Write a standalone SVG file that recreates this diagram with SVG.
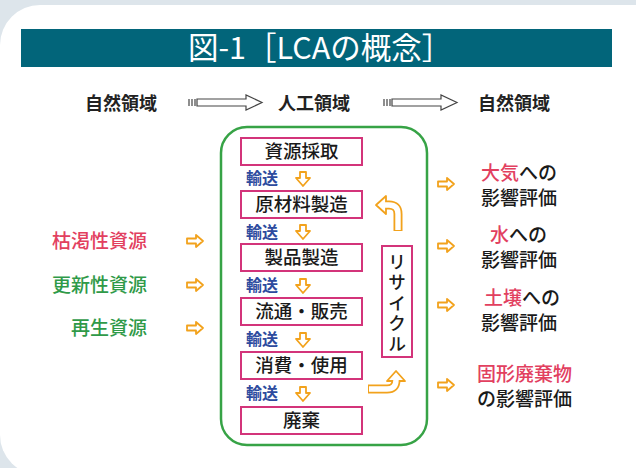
<svg xmlns="http://www.w3.org/2000/svg" width="636" height="468" viewBox="0 0 636 468">
<defs>
<style>
text{font-family:"Noto Sans CJK JP","Noto Sans",sans-serif;}
.hd{font-size:18px;font-weight:700;fill:#222;}
.bx{fill:#fff;stroke:#d3347a;stroke-width:2;}
.bt{font-size:18.5px;font-weight:500;fill:#1a1a1a;text-anchor:middle;}
.tr{font-size:16px;font-weight:700;fill:#2d4b9e;}
.lb{font-size:19px;font-weight:500;fill:#1a1a1a;}
.red{fill:#e2405f;}
.grn{fill:#2f9a48;}
.oa{fill:#fff;stroke:#f2a21c;stroke-width:1.8;stroke-linejoin:round;}
.ha{fill:#fff;stroke:#444;stroke-width:1.2;}
</style>
<path id="da" d="M-3,-7 H3 V-1 H7 L0,7 L-7,-1 H-3 Z"/>
<path id="ra" d="M-8,-2.5 H1 V-6 L8,0 L1,6 V2.5 H-8 Z"/>
</defs>
<rect width="636" height="468" fill="#dde5eb"/>
<rect x="0" y="5" width="680" height="470" rx="40" fill="#fff"/>
<g id="title">
<rect x="21" y="29" width="591" height="38" fill="#02657a"/>
<text x="188" y="59" font-size="30.5" font-weight="400" fill="#fff">図-1［LCAの概念］</text>
</g>
<g id="header">
<text class="hd" x="85" y="110">自然領域</text>
<text class="hd" x="278" y="110">人工領域</text>
<text class="hd" x="478" y="110">自然領域</text>
<g class="ha">
<path d="M189,99 V106 M192,99 V106 M195,99 V106 M197,99 H246 V95 L262,102.5 L246,110 V106 H197 Z"/>
<path d="M384,99 V106 M387,99 V106 M390,99 V106 M392,99 H441 V95 L457,102.5 L441,110 V106 H392 Z"/>
</g>
</g>
<g id="system">
<rect x="221" y="127" width="206" height="318" rx="26" fill="none" stroke="#37a346" stroke-width="2.5"/>
</g>
<g id="n1"><rect class="bx" x="241" y="138" width="121" height="27"/><text class="bt" x="301.5" y="158">資源採取</text></g>
<g id="n2"><rect class="bx" x="241" y="191" width="121" height="27"/><text class="bt" x="301.5" y="211">原材料製造</text></g>
<g id="n3"><rect class="bx" x="241" y="244" width="121" height="27"/><text class="bt" x="301.5" y="264">製品製造</text></g>
<g id="n4"><rect class="bx" x="241" y="298" width="121" height="27"/><text class="bt" x="301.5" y="318">流通・販売</text></g>
<g id="n5"><rect class="bx" x="241" y="352" width="121" height="27"/><text class="bt" x="301.5" y="372">消費・使用</text></g>
<g id="n6"><rect class="bx" x="241" y="407" width="121" height="27"/><text class="bt" x="301.5" y="427">廃棄</text></g>
<g id="recycle"><rect class="bx" x="382" y="246" width="30" height="111"/>
<text x="397" y="253" font-size="18" font-weight="500" fill="#1a1a1a" letter-spacing="2.5" style="writing-mode:vertical-rl">リサイクル</text></g>
<g id="connectors">
<text class="tr" x="246" y="184">輸送</text>
<text class="tr" x="246" y="238">輸送</text>
<text class="tr" x="246" y="291">輸送</text>
<text class="tr" x="246" y="345">輸送</text>
<text class="tr" x="246" y="399">輸送</text>
<use href="#da" class="oa" x="303" y="179"/>
<use href="#da" class="oa" x="303" y="232"/>
<use href="#da" class="oa" x="303" y="286"/>
<use href="#da" class="oa" x="303" y="340"/>
<use href="#da" class="oa" x="303" y="394"/>
<path d="M398,231 V214 Q398,205 389,205 H385" fill="none" stroke="#f2a21c" stroke-width="9"/>
<polygon class="oa" points="376,205 386,196 386,214"/>
<path d="M398,230 V214 Q398,205 389,205 H384" fill="none" stroke="#fff" stroke-width="5.4"/>
<path d="M368,389 H387 Q396,389 396,380 V380" fill="none" stroke="#f2a21c" stroke-width="9"/>
<polygon class="oa" points="396,371 405,381 387,381"/>
<path d="M369,389 H387 Q396,389 396,380 V379" fill="none" stroke="#fff" stroke-width="5.4"/>
<use href="#ra" class="oa" x="195" y="241"/>
<use href="#ra" class="oa" x="195" y="285"/>
<use href="#ra" class="oa" x="195" y="328"/>
<use href="#ra" class="oa" x="446" y="184"/>
<use href="#ra" class="oa" x="446" y="246"/>
<use href="#ra" class="oa" x="446" y="305"/>
<use href="#ra" class="oa" x="446" y="385"/>
</g>
<g id="inputs">
<text class="lb red" x="147" y="248" text-anchor="end">枯渇性資源</text>
<text class="lb grn" x="147" y="292" text-anchor="end">更新性資源</text>
<text class="lb grn" x="147" y="335" text-anchor="end">再生資源</text>
</g>
<g id="impacts">
<text class="lb" x="481" y="180"><tspan class="red">大気</tspan>への</text>
<text class="lb" x="481" y="205">影響評価</text>
<text class="lb" x="490" y="242"><tspan class="red">水</tspan>への</text>
<text class="lb" x="481" y="267">影響評価</text>
<text class="lb" x="484" y="305"><tspan class="red">土壌</tspan>への</text>
<text class="lb" x="481" y="330">影響評価</text>
<text class="lb red" x="477" y="381">固形廃棄物</text>
<text class="lb" x="477" y="406">の影響評価</text>
</g>
</svg>
